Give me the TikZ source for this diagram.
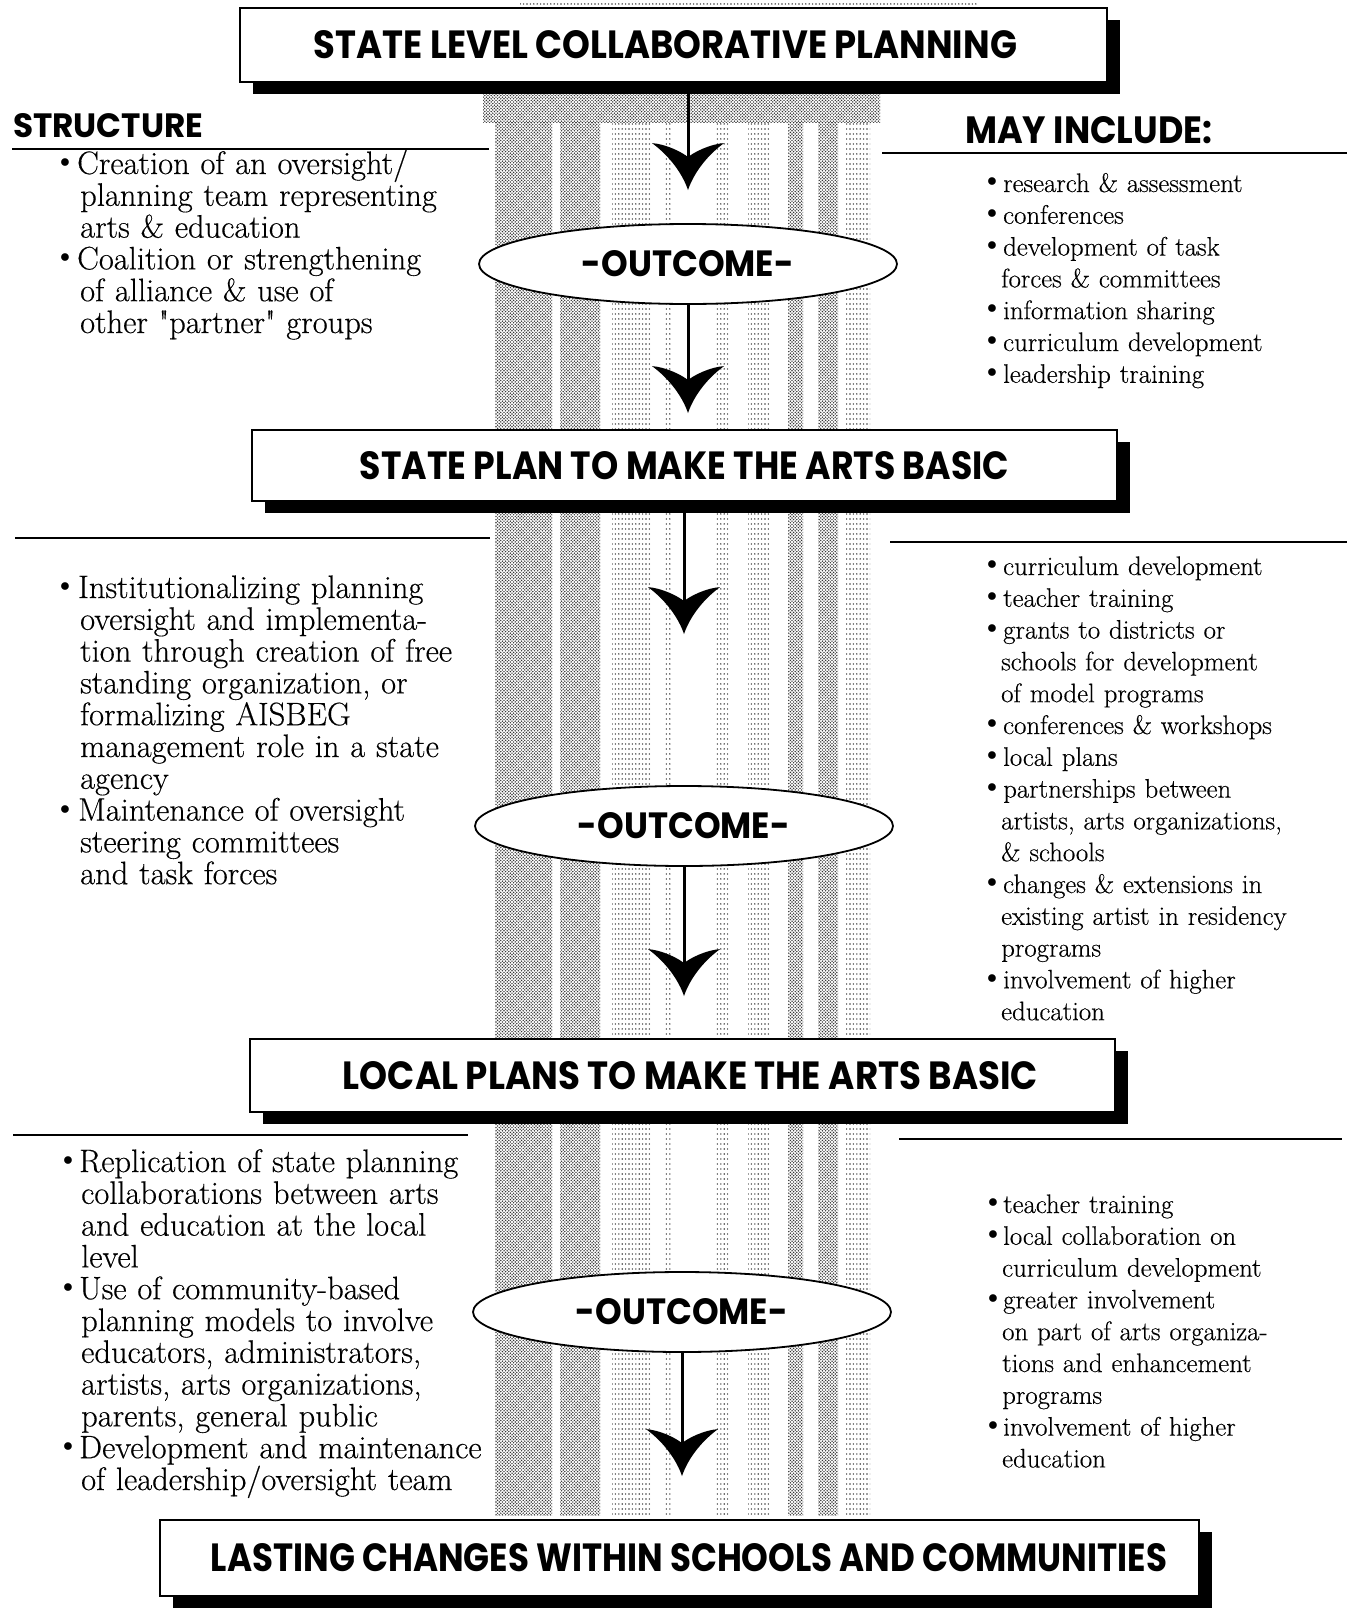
\documentclass[tikz,border=0pt]{standalone}
\usepackage{fontspec}
\usepackage{graphicx}
\usetikzlibrary{arrows.meta,shapes.geometric,patterns,shadows}
\newfontfamily\headfont{Poppins}
\newfontfamily\bodyfont{Latin Modern Roman}[FakeBold=0.35]
% caps heading squeezed to a given width and cap height (in pt)
\newcommand\capsfit[3]{\resizebox{#1pt}{#2pt}{\headfont\bfseries #3}}
% raised round bullet in a box of the given width, and the matching indent
\newcommand\bul[1]{\makebox[#1][l]{\raisebox{0.2em}{\scalebox{0.8}{$\bullet$}}}}
\newcommand\ind[1]{\hspace*{#1}}
% halftone dots for the column
\pgfdeclarepatternformonly{stippledense}{\pgfqpoint{-1pt}{-1pt}}{\pgfqpoint{4pt}{4pt}}{\pgfqpoint{3.2pt}{3.2pt}}{%
  \pgfpathcircle{\pgfqpoint{0pt}{0pt}}{0.8pt}%
  \pgfpathcircle{\pgfqpoint{1.6pt}{1.6pt}}{0.8pt}%
  \pgfusepath{fill}}
\pgfdeclarepatternformonly{stipplesparse}{\pgfqpoint{-1pt}{-1pt}}{\pgfqpoint{4pt}{6pt}}{\pgfqpoint{3.4pt}{5pt}}{%
  \pgfpathcircle{\pgfqpoint{0pt}{0pt}}{0.8pt}%
  \pgfusepath{fill}}
% arrow head with curved, horn-like barbs
\pgfdeclarearrow{
  name = Horn,
  setup code = {
    \pgfarrowssettipend{0pt}
    \pgfarrowssetlineend{-30pt}
    \pgfarrowssetvisualbackend{-33pt}
    \pgfarrowssetbackend{-47pt}
    \pgfarrowshullpoint{0pt}{0pt}
    \pgfarrowshullpoint{-47pt}{36pt}
    \pgfarrowshullpoint{-47pt}{-36pt}
  },
  drawing code = {
    \pgfpathmoveto{\pgfpointorigin}
    \pgfpathcurveto{\pgfqpoint{-15pt}{5pt}}{\pgfqpoint{-33pt}{17pt}}{\pgfqpoint{-47pt}{36pt}}
    \pgfpathcurveto{\pgfqpoint{-46pt}{22pt}}{\pgfqpoint{-38pt}{6pt}}{\pgfqpoint{-33pt}{0pt}}
    \pgfpathcurveto{\pgfqpoint{-38pt}{-6pt}}{\pgfqpoint{-46pt}{-22pt}}{\pgfqpoint{-47pt}{-36pt}}
    \pgfpathcurveto{\pgfqpoint{-33pt}{-17pt}}{\pgfqpoint{-15pt}{-5pt}}{\pgfpointorigin}
    \pgfpathclose
    \pgfusepathqfill
  },
}
\begin{document}
\lineskiplimit=-40pt
\begin{tikzpicture}[x=1pt,y=-1pt,
  headbox/.style={draw,line width=1.8pt,fill=white,inner sep=0pt,
    drop shadow={shadow xshift=13pt,shadow yshift=-12pt,fill=black,opacity=1}},
  outcome/.style={ellipse,draw,line width=1.8pt,fill=white,inner sep=0pt,
    minimum width=418pt,minimum height=80pt},
  link/.style={line width=3pt,-{Horn}},
  rulel/.style={line width=2.2pt},
  blkL/.style={anchor=base west,inner sep=0pt,text width=520pt,align=left,
    font=\bodyfont\fontsize{32.5}{31.8}\selectfont},
  blkR/.style={anchor=base west,inner sep=0pt,text width=380pt,align=left,
    font=\bodyfont\fontsize{26.8}{31.8}\selectfont},
  heading/.style={anchor=base west,inner sep=0pt},
  dense/.style={pattern=stippledense,pattern color=black!80},
  sparse/.style={pattern=stipplesparse,pattern color=black!75},
]
\useasboundingbox (0,0) rectangle (1355,1614);
\fill[white] (0,0) rectangle (1355,1614);

% stippled column behind the flow
\fill[sparse] (520,0) rectangle (978,9);
\fill[dense] (483,90) rectangle (880,122);
\fill[dense] (495,122) rectangle (552,1515);
\fill[dense] (560,122) rectangle (600,1515);
\fill[sparse] (612,122) rectangle (650,1515);
\fill[sparse] (664,122) rectangle (672,1515);
\fill[sparse] (715,122) rectangle (728,1515);
\fill[sparse] (748,122) rectangle (770,1515);
\fill[dense] (788,122) rectangle (803,1515);
\fill[dense] (818,122) rectangle (838,1515);
\fill[sparse] (846,122) rectangle (870,1515);

% section rules
\draw[rulel] (12,149) -- (489,149);
\draw[rulel] (882,153) -- (1347,153);
\draw[rulel] (15,538) -- (490,538);
\draw[rulel] (890,542) -- (1347,542);
\draw[rulel] (13,1135) -- (468,1135);
\draw[rulel] (899,1139) -- (1342,1139);

% column headings
\node[heading] (structure) at (13,137) {\capsfit{190}{24}{STRUCTURE}};
\node[heading] (mayinclude) at (965,143) {\capsfit{247}{27}{MAY INCLUDE:}};

% main boxes
\node[headbox,minimum width=867pt,minimum height=74pt] (box1) at (673.5,45)
  {\capsfit{703}{28}{STATE LEVEL COLLABORATIVE PLANNING}\hspace*{16pt}};
\node[headbox,minimum width=865pt,minimum height=71pt] (box2) at (684.5,465.5)
  {\capsfit{649}{28}{STATE PLAN TO MAKE THE ARTS BASIC}};
\node[headbox,minimum width=865pt,minimum height=73pt] (box3) at (682.5,1075.5)
  {\hspace*{16pt}\capsfit{695}{28}{LOCAL PLANS TO MAKE THE ARTS BASIC}};
\node[headbox,minimum width=1039pt,minimum height=76pt] (box4) at (679.5,1558)
  {\hspace*{19pt}\capsfit{956}{28}{LASTING CHANGES WITHIN SCHOOLS AND COMMUNITIES}};

% outcome ellipses
\node[outcome] (e1) at (688,264) {\capsfit{212}{26}{-OUTCOME-}};
\node[outcome] (e2) at (684,826) {\capsfit{212}{26}{-OUTCOME-}};
\node[outcome] (e3) at (682,1312) {\capsfit{212}{26}{-OUTCOME-}};

% flow arrows
\draw[link,shorten >=33pt] (box1.south -| e1.center) -- (e1.north);
\draw[link,shorten >=16pt] (e1.south) -- (box2.north -| e1.center);
\draw[link,shorten >=151pt] (box2.south -| e2.center) -- (e2.north);
\draw[link,shorten >=42pt] (e2.south) -- (box3.north -| e2.center);
\draw[link,shorten >=43pt] (e3.south) -- (box4.north -| e3.center);

% structure texts
\node[blkL] (s1) at (60,174) {%
\bul{17pt}Creation of an oversight/\\
\ind{20pt}planning team representing\\
\ind{20pt}arts \& education\\
\bul{17pt}Coalition or strengthening\\
\ind{20pt}of alliance \& use of\\
\ind{20pt}other \textquotedbl partner\textquotedbl{} groups};

\node[blkL] (s2) at (60,598) {%
\bul{18pt}Institutionalizing planning\\
\ind{20pt}oversight and implementa-\\
\ind{20pt}tion through creation of free\\
\ind{20pt}standing organization, or\\
\ind{20pt}formalizing AISBEG\\
\ind{20pt}management role in a state\\
\ind{20pt}agency\\
\bul{18pt}Maintenance of oversight\\
\ind{20pt}steering committees\\
\ind{20pt}and task forces};

\node[blkL] (s3) at (63,1172) {%
\bul{16pt}Replication of state planning\\
\ind{18pt}collaborations between arts\\
\ind{18pt}and education at the local\\
\ind{18pt}level\\
\bul{16pt}Use of community-based\\
\ind{18pt}planning models to involve\\
\ind{18pt}educators, administrators,\\
\ind{18pt}artists, arts organizations,\\
\ind{18pt}parents, general public\\
\bul{16pt}Development and maintenance\\
\ind{18pt}of leadership/oversight team};

% activity texts
\node[blkR] (m1) at (987,192) {%
\bul{16pt}research \& assessment\\
\bul{16pt}conferences\\
\bul{16pt}development of task\\
\ind{14pt}forces \& committees\\
\bul{16pt}information sharing\\
\bul{16pt}curriculum development\\
\bul{16pt}leadership training};

\node[blkR] (m2) at (987,575) {%
\bul{16pt}curriculum development\\
\bul{16pt}teacher training\\
\bul{16pt}grants to districts or\\
\ind{14pt}schools for development\\
\ind{14pt}of model programs\\
\bul{16pt}conferences \& workshops\\
\bul{16pt}local plans\\
\bul{16pt}partnerships between\\
\ind{14pt}artists, arts organizations,\\
\ind{14pt}\& schools\\
\bul{16pt}changes \& extensions in\\
\ind{14pt}existing artist in residency\\
\ind{14pt}programs\\
\bul{16pt}involvement of higher\\
\ind{14pt}education};

\node[blkR] (m3) at (988,1213) {%
\bul{15pt}teacher training\\
\bul{15pt}local collaboration on\\
\ind{14pt}curriculum development\\
\bul{15pt}greater involvement\\
\ind{14pt}on part of arts organiza-\\
\ind{14pt}tions and enhancement\\
\ind{14pt}programs\\
\bul{15pt}involvement of higher\\
\ind{14pt}education};
\end{tikzpicture}
\end{document}
